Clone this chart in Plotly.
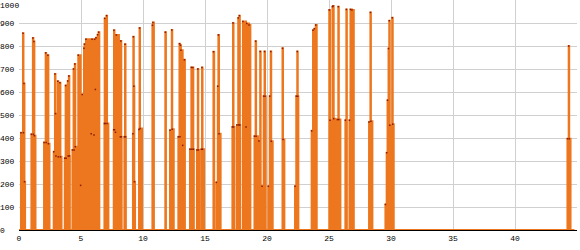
import plotly.graph_objects as go

# Signal change points (time, value); value holds until next change
t = [0.00,
     0.16, 0.32, 0.36, 0.40, 0.44, 0.49,
     1.00, 1.12, 1.16, 1.20, 1.24, 1.33,
     2.02, 2.15, 2.19, 2.33, 2.37, 2.46,
     2.80, 2.90, 2.94, 2.98, 3.13, 3.17, 3.30, 3.34, 3.43,
     3.69, 3.76, 3.80, 3.93, 3.97, 4.02, 4.06, 4.10,
     4.31, 4.40, 4.44, 4.50, 4.54, 4.68,
     4.78, 4.97, 5.10, 5.24, 5.28, 5.40, 5.82, 5.89, 6.05, 6.10, 6.16, 6.21, 6.34, 6.42, 6.48,
     6.89, 6.91, 6.95, 7.06, 7.10, 7.21,
     7.64, 7.66, 7.70, 7.78, 7.85, 8.06,
     8.17, 8.21, 8.25, 8.28,
     8.50, 8.55, 8.59, 8.62,
     9.19, 9.22, 9.26, 9.30, 9.36,
     9.68, 9.72, 9.76, 9.93,
     10.76, 10.80, 10.88,
     11.80, 11.85,
     12.18, 12.32, 12.36, 12.48,
     12.85, 12.94, 12.98, 13.02, 13.06, 13.20, 13.34, 13.38,
     13.79, 13.90, 13.94, 14.02, 14.06, 14.10,
     14.35, 14.42, 14.46, 14.54,
     14.71, 14.76, 14.80, 14.93,
     15.68, 15.74,
     15.92, 16.03, 16.08, 16.13, 16.26,
     17.21, 17.26, 17.30, 17.38,
     17.58, 17.68, 17.72, 17.77, 17.81, 17.84,
     18.06, 18.31, 18.37, 18.55, 18.66,
     18.99, 19.08, 19.12, 19.27,
     19.35, 19.45, 19.49,
     19.60, 19.73, 19.80, 19.84, 19.90,
     20.11, 20.22, 20.30, 20.34, 20.46,
     21.25, 21.29, 21.40,
     22.26, 22.36, 22.44, 22.48, 22.53,
     23.60, 23.71, 23.82, 23.93, 24.01,
     25.02, 25.08, 25.28, 25.33, 25.38, 25.52,
     25.68, 25.75, 25.79, 25.92,
     26.32, 26.40, 26.44,
     26.65, 26.73, 26.85, 27.00,
     28.23, 28.34, 28.38, 28.50,
     29.55, 29.65, 29.72, 29.80, 29.86, 29.90, 30.10, 30.14, 30.22,
     44.23, 44.33, 44.37, 44.48,
     44.80]

v = [0,
     423, 855, 423, 637, 210, 0,
     416, 835, 416, 820, 410, 0,
     380, 770, 380, 760, 375, 0,
     340, 678, 506, 322, 647, 318, 640, 318, 0,
     312, 628, 312, 648, 322, 670, 322, 0,
     348, 700, 348, 722, 362, 0,
     760, 194, 589, 790, 808, 829, 418, 829, 413, 829, 611, 836, 849, 860, 0,
     463, 920, 463, 932, 463, 0,
     436, 869, 436, 425, 848, 0,
     405, 822, 405, 0,
     405, 808, 405, 0,
     418, 840, 625, 210, 0,
     437, 878, 441, 0,
     890, 902, 0,
     860, 0,
     434, 870, 438, 0,
     405, 810, 405, 803, 782, 368, 740, 0,
     351, 707, 351, 707, 351, 0,
     348, 700, 348, 0,
     351, 707, 351, 0,
     775, 0,
     207, 625, 848, 419, 0,
     448, 900, 448, 0,
     457, 922, 457, 932, 457, 0,
     906, 448, 898, 891, 0,
     408, 821, 408, 0,
     387, 776, 0,
     190, 582, 776, 582, 0,
     190, 582, 776, 386, 0,
     790, 393, 0,
     190, 582, 776, 582, 0,
     431, 869, 875, 891, 0,
     956, 477, 971, 974, 484, 0,
     480, 971, 480, 0,
     477, 959, 0,
     477, 959, 956, 0,
     470, 946, 473, 0,
     111, 336, 564, 789, 910, 455, 923, 460, 0,
     397, 800, 397, 0,
     0]

x_ticks = [0, 5, 10, 15, 20, 25, 30, 35, 40, 45]
y_ticks = [0, 100, 200, 300, 400, 500, 600, 700, 800, 900, 1000]

ORANGE = "#ED771E"
MARGIN_L = 19
PLOT_W = 580 - MARGIN_L - 3

fig = go.Figure()
fig.add_trace(go.Scatter(
    x=t, y=v, mode="lines",
    line=dict(color=ORANGE, width=2, shape="hv"),
    fill="tozeroy", fillcolor=ORANGE, hoverinfo="skip", showlegend=False))
fig.add_trace(go.Scatter(
    x=[a for a, b in zip(t, v) if b > 0],
    y=[b for b in v if b > 0],
    mode="markers",
    marker=dict(symbol="square", size=1.5, color="#8a1a08", line=dict(width=0)),
    hoverinfo="skip", showlegend=False))

tick_font = dict(family="Liberation Mono", size=8, color="black")

# y-axis labels are left-aligned at the page edge in the reference
for yv in y_ticks:
    fig.add_annotation(
        x=-MARGIN_L / PLOT_W, xref="paper", xanchor="left",
        y=yv, yref="y", yanchor="top" if yv == y_ticks[-1] else "middle",
        text=str(yv), showarrow=False, font=tick_font,
        borderpad=0, xshift=-1)

fig.update_layout(
    width=580, height=250,
    margin=dict(l=MARGIN_L, r=3, t=0, b=20),
    paper_bgcolor="white", plot_bgcolor="white",
    xaxis=dict(range=[0, 45], tickmode="array", tickvals=x_ticks,
               ticktext=[str(x) for x in x_ticks],
               showgrid=True, gridcolor="#d0d0d0", gridwidth=1,
               zeroline=False, showline=True, linecolor="black", linewidth=1,
               layer="below traces", ticks="", tickfont=tick_font),
    yaxis=dict(range=[0, 1000], tickmode="array", tickvals=y_ticks,
               showticklabels=False,
               showgrid=True, gridcolor="#d0d0d0", gridwidth=1,
               zeroline=False, showline=False, layer="below traces",
               ticks=""),
)
fig.write_html("out.html")
